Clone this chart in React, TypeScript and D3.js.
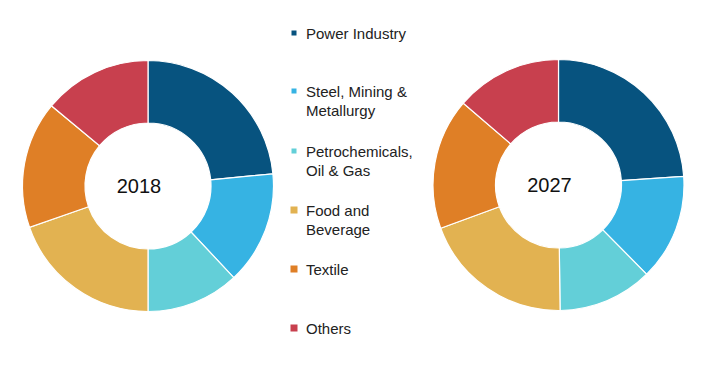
import React from "react";
import * as d3 from "d3";

const categories = [
  "Power Industry",
  "Steel, Mining & Metallurgy",
  "Petrochemicals, Oil & Gas",
  "Food and Beverage",
  "Textile",
  "Others",
];
const legendLines = [
  ["Power Industry"],
  ["Steel, Mining  &", "Metallurgy"],
  ["Petrochemicals,", "Oil & Gas"],
  ["Food and", "Beverage"],
  ["Textile"],
  ["Others"],
];
const colors = ["#07537F", "#36B3E3", "#63CFD8", "#E2B251", "#DF7F26", "#C8404E"];

const share2018 = [23.5, 14.6, 12.0, 19.7, 16.4, 14.0];
const share2027 = [23.9, 13.7, 12.2, 19.6, 16.9, 13.7];

const years = [
  { label: "2018", values: share2018, cx: 148, cy: 186 },
  { label: "2027", values: share2027, cx: 558.5, cy: 185 },
];

const legendY = [33, 91, 151, 210, 269, 328];
const legendSize = [5, 5, 5, 7, 7, 7];

const App: React.FC = () => {
  const width = 703;
  const height = 368;

  const pie = d3.pie<number>().sort(null).value((d) => d);
  const arc = d3.arc<d3.PieArcDatum<number>>().innerRadius(63).outerRadius(125.5);

  return (
    <svg
      width={width}
      height={height}
      style={{ position: "absolute", left: 0, top: 0, background: "#fff" }}
      fontFamily="'Liberation Sans', Arial, sans-serif"
    >
      {years.map((y) => (
        <g key={y.label} transform={`translate(${y.cx},${y.cy})`}>
          {pie(y.values).map((d, i) => (
            <path
              key={categories[i]}
              d={arc(d) || ""}
              fill={colors[i]}
              stroke="#fff"
              strokeWidth={1.2}
            />
          ))}
          <text
            x={-9}
            y={0}
            textAnchor="middle"
            dominantBaseline="central"
            fontSize={20}
            fill="#111"
          >
            {y.label}
          </text>
        </g>
      ))}
      <g>
        {legendLines.map((lines, i) => (
          <g key={categories[i]}>
            <rect
              x={294 - legendSize[i] / 2}
              y={legendY[i] - legendSize[i] / 2}
              width={legendSize[i]}
              height={legendSize[i]}
              fill={colors[i]}
            />
            {lines.map((t, j) => (
              <text
                key={t}
                x={306}
                y={legendY[i] + j * 19.5}
                dominantBaseline="central"
                fontSize={15}
                fill="#222"
              >
                {t}
              </text>
            ))}
          </g>
        ))}
      </g>
    </svg>
  );
};

export default App;
